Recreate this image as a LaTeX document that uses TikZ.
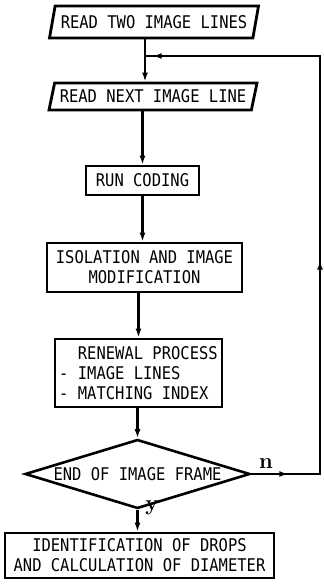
\documentclass[tikz,border=0pt]{standalone}
\usepackage{fontspec}
\newfontfamily\diagfont[FakeStretch=0.885]{DejaVu Sans Mono}
\usetikzlibrary{shapes.geometric,arrows.meta,decorations.markings}
\tikzset{fbtip/.tip={Latex[length=9pt,width=6pt]}}
\begin{document}
\begin{tikzpicture}[x=1pt,y=-1pt,
  txt/.style={font=\diagfont\fontsize{17.5}{20}\selectfont, align=center, inner sep=0pt},
  box/.style={txt, draw, line width=2.8pt, rectangle},
  io/.style={txt, draw, line width=2.8pt, trapezium, trapezium left angle=67, trapezium right angle=113, trapezium stretches body},
  dec/.style={txt, draw, line width=2.6pt, diamond, aspect=3.26},
  conn/.style={line width=2.1pt},
  arr/.style={conn, -fbtip},
  lbl/.style={font=\fontsize{22}{22}\selectfont\bfseries, inner sep=0pt}
]
\useasboundingbox (0,0) rectangle (324,587);

\node[io, minimum width=209pt, minimum height=32pt] (p1) at (154,22) {READ TWO IMAGE LINES};
\node[io, minimum width=208pt, minimum height=27pt] (p2) at (153,96.5) {READ NEXT IMAGE LINE};
\node[box, minimum width=113pt, minimum height=29pt] (rc) at (142.5,180.5) {RUN CODING};
\node[box, minimum width=195pt, minimum height=49pt] (iso) at (144.5,267.5) {ISOLATION AND IMAGE\\MODIFICATION};
\node[box, minimum width=167pt, minimum height=68pt, align=left] (ren) at (138.5,373) {\hphantom{-} RENEWAL PROCESS\\- IMAGE LINES\\- MATCHING INDEX};
\node[dec, minimum width=225pt, minimum height=69pt] (dia) at (137.5,474) {END OF IMAGE FRAME};
\node[box, minimum width=269pt, minimum height=45pt] (fin) at (139.5,555.5) {IDENTIFICATION OF DROPS\\AND CALCULATION OF DIAMETER};

\node[lbl] (nl) at (266,464) {n};
\node[lbl] (yl) at (152,508) {y};

\coordinate (j) at (145,56);
\coordinate (c2) at (320,56);
\coordinate (c1) at (dia.east -| c2);

\draw[conn] (p1.south -| j) -- (j);
\draw[arr] (j) -- (j |- p2.north);
\draw[arr] (rc.north |- p2.south) -- (rc.north);
\draw[arr] (rc.south) -- (rc.south |- iso.north);
\draw[arr] (ren.north |- iso.south) -- (ren.north);
\draw[arr] (dia.north |- ren.south) -- (dia.north);
\draw[arr] (dia.south) -- (dia.south |- fin.north);

\draw[conn, postaction={decorate}, decoration={markings,
    mark=at position 37pt with {\arrow{fbtip}},
    mark=at position 282pt with {\arrow{fbtip}},
    mark=at position 654pt with {\arrow{fbtip}}}]
  (dia.east) -- (c1) -- (c2) -- (j);
\end{tikzpicture}
\end{document}
